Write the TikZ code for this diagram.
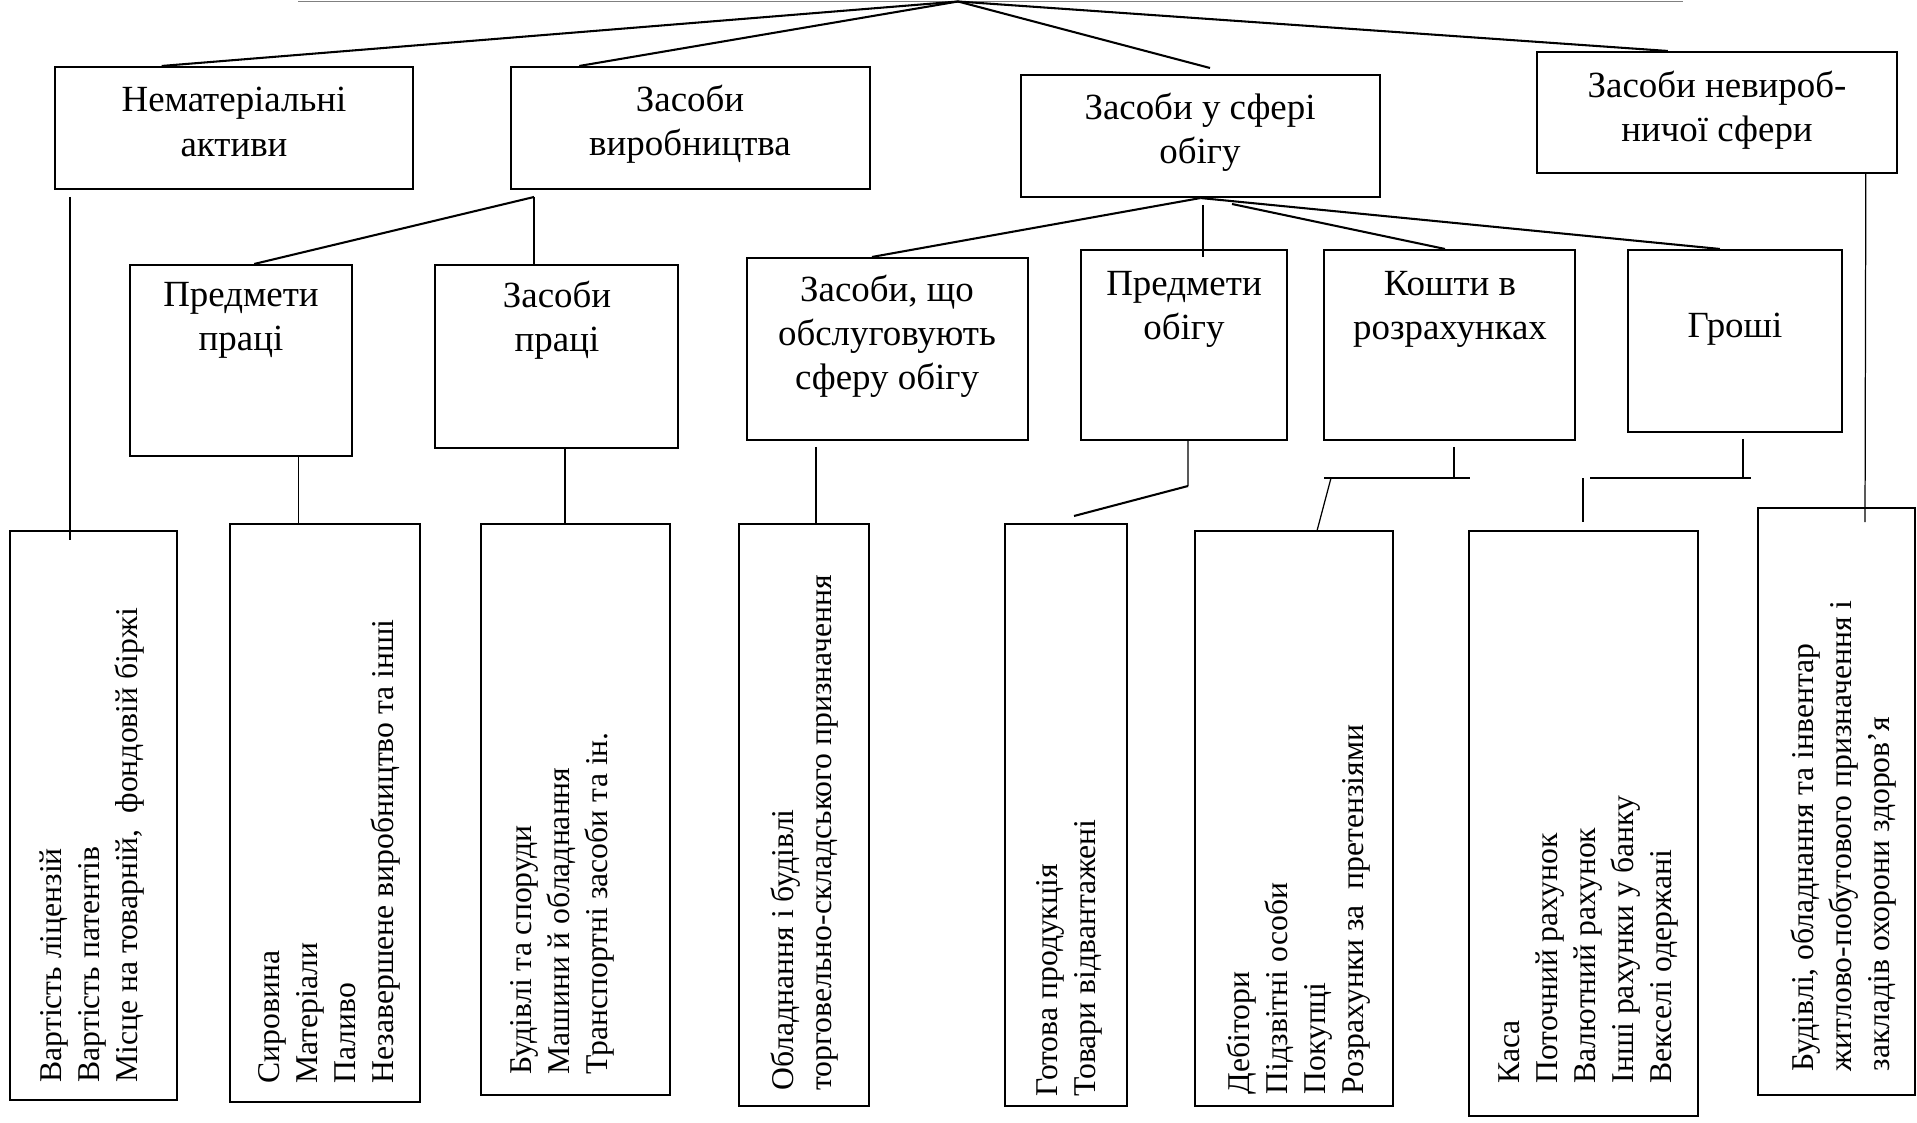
\documentclass[tikz,border=0pt]{standalone}
\usepackage{fontspec}
\setmainfont{Liberation Serif}
\usetikzlibrary{fit,calc}
\begin{document}
\begin{tikzpicture}[x=0.363pt,y=-0.363pt,
  frame/.style={draw,line width=0.75pt,inner sep=0pt,rectangle},
  heavy/.style={line width=0.75pt},
  light/.style={line width=0.45pt},
  barline/.style={line width=1pt},
  headtext/.style={inner sep=0pt,align=center,font=\fontsize{13.4}{16}\selectfont},
  listtext/.style={inner sep=0pt,align=left,rotate=90,anchor=north west,
                   font=\fontsize{11.5}{13.8}\selectfont}]
\useasboundingbox (0,0) rectangle (1917,1123);

% ---------- first level ----------
\node[frame, fit={(55,67) (413,189)}]    (b1) {};
\node[frame, fit={(511,67) (870,189)}]   (b2) {};
\node[frame, fit={(1021,75) (1380,197)}] (b3) {};
\node[frame, fit={(1537,52) (1897,173)}] (b4) {};
\node[headtext] (b1t) at (234,122)  {Нематеріальні\\активи};
\node[headtext] (b2t) at (690,124)  {Засоби\\виробництва};
\node[headtext] (b3t) at (1200,132) {Засоби у сфері\\обігу};
\node[headtext] (b4t) at (1717,110) {Засоби невироб-\\ничої сфери};

% ---------- second level ----------
\node[frame, fit={(130,265) (352,456)}]   (m1) {};
\node[frame, fit={(435,265) (678,448)}]   (m2) {};
\node[frame, fit={(747,258) (1028,440)}]  (m3) {};
\node[frame, fit={(1081,250) (1287,440)}] (m4) {};
\node[frame, fit={(1324,250) (1575,440)}] (m5) {};
\node[frame, fit={(1628,250) (1842,432)}] (m6) {};
\node[headtext] (m1t) at (241,320)  {Предмети\\праці};
\node[headtext] (m2t) at (557,320)  {Засоби\\праці};
\node[headtext] (m3t) at (887,336)  {Засоби, що\\обслуговують\\сферу обігу};
\node[headtext] (m4t) at (1184,309) {Предмети\\обігу};
\node[headtext] (m5t) at (1450,309) {Кошти в\\розрахунках};
\node[headtext] (m6t) at (1735,329) {Гроші};

% ---------- third level ----------
\node[frame, fit={(10,531) (177,1100)}]    (l1) {};
\node[frame, fit={(230,524) (420,1102)}]   (l2) {};
\node[frame, fit={(481,524) (670,1095)}]   (l3) {};
\node[frame, fit={(739,524) (869,1106)}]   (l4) {};
\node[frame, fit={(1005,524) (1127,1106)}] (l5) {};
\node[frame, fit={(1195,531) (1393,1106)}] (l6) {};
\node[frame, fit={(1469,531) (1698,1116)}] (l7) {};
\node[frame, fit={(1758,508) (1915,1095)}] (l8) {};

\node[listtext] (l1t) at (39,1083)   {Вартість ліцензій\\Вартість патентів\\Місце на товарній,\ \ фондовій біржі};
\node[listtext] (l2t) at (258,1084)  {Сировина\\Матеріали\\Паливо\\Незавершене виробництво та інші};
\node[listtext] (l3t) at (510,1075)  {Будівлі та споруди\\Машини й обладнання\\Транспортні засоби та ін.};
\node[listtext] (l4t) at (770,1091)  {Обладнання і будівлі\\торговельно-складського призначення};
\node[listtext] (l5t) at (1036,1097) {Готова продукція\\Товари відвантажені};
\node[listtext] (l6t) at (1226,1095) {Дебітори\\Підзвітні особи\\Покупці\\Розрахунки за\ \ претензіями};
\node[listtext] (l7t) at (1498,1084) {Каса\\Поточний рахунок\\Валютний рахунок\\Інші рахунки у банку\\Векселі одержані};
\node[listtext] (l8t) at (1790,1072) {Будівлі, обладнання та інвентар\\житлово-побутового призначення і\\закладів охорони здоров’я};

% ---------- rule and root ----------
\coordinate (rulestart) at (298,1.5);
\coordinate (ruleend)   at (1683,1.5);
\draw[gray, line width=0.5pt] (rulestart) -- (ruleend);
\coordinate (root) at (958,1.5);
\coordinate (b3gap) at (1210,68);
\draw[heavy] (root) -- ($(b1.north west)!0.299!(b1.north east)$);
\draw[heavy] (root) -- ($(b2.north west)!0.192!(b2.north east)$);
\draw[heavy] (root) -- (b3gap);
\draw[heavy] (root) -- ($(b4.north west)!0.364!(b4.north east)$);

% intangible assets
\coordinate (b1low) at (70,197);
\coordinate (l1in)  at (70,540);
\draw[light] (b1low) -- (l1in);

% means of production
\coordinate (j2) at (534,197);
\draw[heavy] (j2) -- ($(m1.north west)!0.559!(m1.north east)$);
\draw[light] (j2) -- (j2 |- m2.north);

% circulation sphere
\draw[heavy] (b3.south) -- ($(m3.north west)!0.445!(m3.north east)$);
\coordinate (v4a) at (1203,205);
\coordinate (v4b) at (1203,257);
\draw[light] (v4a) -- (v4b);
\coordinate (k5a) at (1232,204);
\draw[heavy] (k5a) -- ($(m5.north west)!0.482!(m5.north east)$);
\draw[heavy] (b3.south) -- ($(m6.north west)!0.43!(m6.north east)$);

% non-production sphere
\coordinate (b4foot) at ($(b4.south west)!0.911!(b4.south east)$);
\coordinate (l8in) at (1865,522);
\draw[light] (b4foot) -- (l8in);

% second level to third level
\coordinate (m1foot) at ($(m1.south west)!0.757!(m1.south east)$);
\draw[light] (m1foot) -- (m1foot |- l2.north);
\coordinate (m2foot) at ($(m2.south west)!0.535!(m2.south east)$);
\draw[light] (m2foot) -- (m2foot |- l3.north);
\coordinate (m3foot) at (816,447);
\draw[light] (m3foot) -- (m3foot |- l4.north);

\coordinate (m4foot) at ($(m4.south west)!0.519!(m4.south east)$);
\coordinate (m4bend) at (1188,486);
\coordinate (l5gap)  at (1074,516);
\draw[light] (m4foot) -- (m4bend);
\draw[heavy] (m4bend) -- (l5gap);

\coordinate (m5foot) at (1454,447);
\coordinate (m5knot) at (1454,478);
\coordinate (m5barL) at (1324,478);
\coordinate (m5barR) at (1470,478);
\coordinate (m5drop) at (1331,478);
\draw[light] (m5foot) -- (m5knot);
\draw[barline] (m5barL) -- (m5barR);
\draw[light] (m5drop) -- ($(l6.north west)!0.616!(l6.north east)$);

\coordinate (m6foot) at (1743,439);
\coordinate (m6knot) at (1743,478);
\coordinate (m6barL) at (1590,478);
\coordinate (m6barR) at (1751,478);
\coordinate (m6dropA) at (1583,478);
\coordinate (m6dropB) at (1583,522);
\draw[light] (m6foot) -- (m6knot);
\draw[barline] (m6barL) -- (m6barR);
\draw[light] (m6dropA) -- (m6dropB);
\end{tikzpicture}
\end{document}
